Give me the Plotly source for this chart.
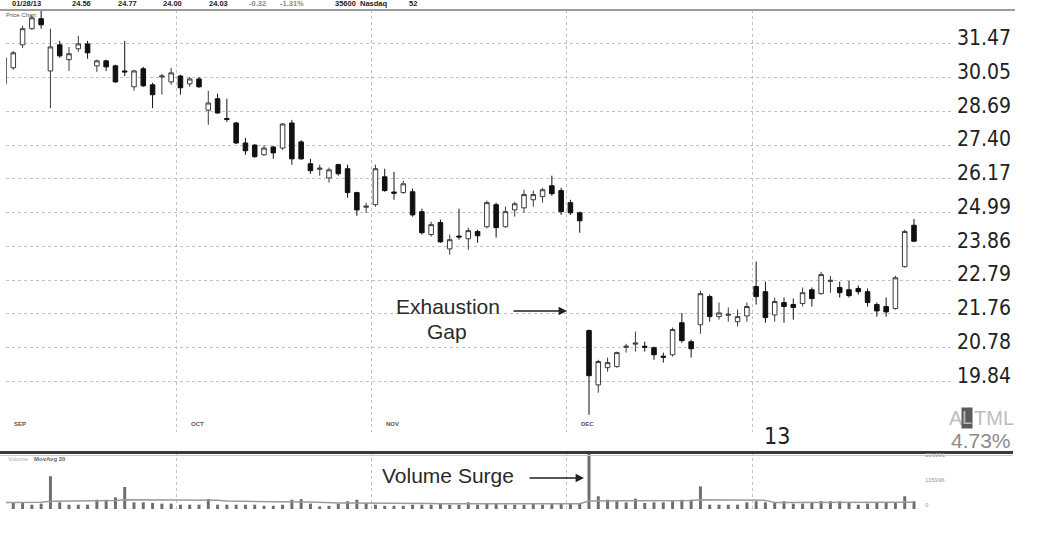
import math
import plotly.graph_objects as go

W, H = 1044, 534


def fx(p):
    return p / W


def fy(p):
    return 1 - p / H


# ---------------- data ----------------
opens = [29.79, 30.45, 31.42, 32.12, 32.56, 30.32, 31.42, 30.79, 31.25, 31.46,
         30.53, 30.74, 30.53, 30.32, 29.67, 30.41, 29.75, 30.07, 29.87, 30.11,
         29.79, 29.99, 28.74, 29.19, 28.41, 28.24, 27.48, 27.40, 27.04, 27.33,
         27.29, 28.24, 27.52, 26.71, 26.51, 26.20, 26.68, 26.53, 25.68, 25.17,
         25.26, 26.24, 25.70, 25.68, 25.71, 25.02, 24.25, 24.65, 23.78, 24.20,
         24.11, 24.35, 24.51, 25.26, 24.51, 25.08, 25.15, 25.43, 25.54, 25.92,
         25.75, 25.33, 24.98, 21.27, 19.75, 20.22, 20.25, 20.79, 20.88, 20.82,
         20.78, 20.54, 20.58, 21.50, 20.95, 21.44, 22.28, 21.68, 21.72, 21.53,
         21.70, 22.59, 22.43, 21.73, 22.10, 22.04, 22.07, 22.49, 22.37, 22.75,
         22.56, 22.49, 22.53, 22.43, 22.04, 21.98, 21.92, 23.21, 24.56]
highs = [31.00, 31.16, 32.25, 32.69, 32.91, 32.12, 31.59, 31.33, 31.81, 31.59,
         30.79, 30.79, 30.58, 31.59, 30.37, 30.49, 29.83, 30.20, 30.45, 30.16,
         30.07, 30.07, 29.51, 29.39, 29.19, 28.28, 27.67, 27.44, 27.40, 27.37,
         28.24, 28.36, 27.59, 26.89, 26.68, 26.57, 26.71, 26.68, 25.71, 25.33,
         26.68, 26.53, 26.42, 26.10, 25.82, 25.12, 24.68, 24.75, 24.25, 25.12,
         24.48, 24.41, 25.40, 25.33, 25.19, 25.36, 25.78, 25.75, 25.85, 26.28,
         25.85, 25.43, 25.02, 21.30, 20.44, 20.50, 20.67, 20.89, 21.24, 20.95,
         20.81, 20.64, 21.36, 21.79, 21.01, 22.46, 22.34, 22.10, 21.95, 21.89,
         22.10, 23.37, 22.74, 22.25, 22.25, 22.22, 22.56, 22.56, 23.05, 22.92,
         22.74, 22.77, 22.62, 22.53, 22.10, 22.25, 22.92, 24.41, 24.77]
lows = [29.63, 30.37, 31.29, 32.07, 32.12, 28.82, 30.87, 30.32, 31.12, 30.83,
        30.28, 30.32, 29.83, 30.11, 29.51, 29.67, 28.82, 29.35, 29.75, 29.35,
        29.67, 29.63, 28.17, 28.59, 28.28, 27.44, 27.04, 26.93, 27.00, 26.89,
        27.22, 26.68, 26.86, 26.35, 26.28, 26.03, 26.28, 25.50, 24.88, 24.98,
        25.19, 25.71, 25.43, 25.64, 24.85, 24.25, 24.18, 23.98, 23.59, 24.08,
        23.75, 23.98, 24.45, 24.15, 24.48, 24.85, 24.98, 25.19, 25.33, 25.57,
        24.91, 24.91, 24.31, 18.96, 19.54, 20.11, 20.22, 20.64, 20.67, 20.67,
        20.44, 20.36, 20.53, 20.92, 20.50, 21.18, 21.53, 21.59, 21.53, 21.39,
        21.53, 22.04, 21.50, 21.53, 21.50, 21.59, 21.98, 21.98, 22.34, 22.40,
        22.25, 22.25, 22.34, 21.98, 21.68, 21.68, 21.89, 23.18, 24.00]
closes = [30.87, 31.08, 32.12, 32.60, 32.29, 31.33, 30.95, 31.04, 31.46, 31.08,
          30.74, 30.49, 29.87, 30.28, 30.32, 29.71, 29.35, 30.11, 30.24, 29.63,
          29.99, 29.67, 29.02, 28.63, 28.38, 27.48, 27.19, 26.97, 27.29, 27.11,
          28.20, 26.89, 26.89, 26.46, 26.55, 26.49, 26.35, 25.68, 25.08, 25.21,
          26.53, 25.75, 25.66, 25.99, 24.91, 24.31, 24.58, 24.01, 24.08, 24.17,
          24.38, 24.21, 25.33, 24.48, 25.02, 25.29, 25.61, 25.61, 25.78, 25.64,
          25.02, 24.98, 24.71, 20.00, 20.39, 20.36, 20.64, 20.82, 20.91, 20.79,
          20.58, 20.51, 21.30, 20.98, 20.75, 22.37, 21.68, 21.79, 21.75, 21.68,
          21.98, 22.28, 21.65, 22.13, 21.98, 21.95, 22.40, 22.22, 22.96, 22.78,
          22.40, 22.31, 22.43, 22.10, 21.85, 21.82, 22.86, 24.35, 24.03]
volumes = [28000, 31000, 28000, 20000, 25000, 152000, 31000, 20000, 20000, 20000,
           43000, 43000, 54000, 102000, 31000, 31000, 28000, 25000, 25000, 20000,
           20000, 20000, 46000, 20000, 20000, 20000, 20000, 20000, 15000, 15000,
           20000, 43000, 46000, 25000, 12000, 15000, 25000, 36000, 43000, 28000,
           20000, 15000, 15000, 15000, 20000, 20000, 20000, 25000, 20000, 20000,
           31000, 20000, 25000, 28000, 20000, 20000, 20000, 25000, 20000, 25000,
           28000, 25000, 25000, 270000, 59000, 43000, 36000, 31000, 48000, 28000,
           31000, 31000, 36000, 43000, 43000, 105000, 20000, 20000, 20000, 20000,
           31000, 36000, 31000, 28000, 36000, 25000, 25000, 28000, 36000, 36000,
           36000, 28000, 20000, 25000, 28000, 28000, 28000, 59000, 36000]
vol_ma20 = [30000, 30000, 30000, 30000, 31000, 36000, 36000, 36000, 36000, 37000,
            38000, 38000, 39000, 43000, 43000, 43000, 43000, 43000, 43000, 42000,
            42000, 42000, 42000, 41000, 37000, 36000, 36000, 36000, 36000, 35000,
            31000, 31000, 32000, 32000, 30000, 29000, 28000, 28000, 28000, 27000,
            27000, 26000, 26000, 25000, 25000, 25000, 25000, 24000, 24000, 24000,
            24000, 24000, 24000, 24000, 24000, 24000, 24000, 24000, 24000, 24000,
            24000, 24000, 24000, 37000, 38000, 38000, 38000, 38000, 38000, 38000,
            38000, 38000, 38000, 39000, 39000, 43000, 43000, 42000, 42000, 42000,
            41000, 40000, 40000, 30000, 30000, 30000, 30000, 30000, 30000, 31000,
            31000, 31000, 30000, 30000, 30000, 30000, 30000, 30000, 31000]
bar_index = list(range(len(opens)))

price_ticks = [31.47, 30.05, 28.69, 27.40, 26.17, 24.99, 23.86, 22.79, 21.76, 20.78, 19.84]
price_tick_text = ["31.47", "30.05", "28.69", "27.40", "26.17", "24.99",
                   "23.86", "22.79", "21.76", "20.78", "19.84"]
month_labels = ["SEP", "OCT", "NOV", "DEC"]
month_label_starts = [0, 19, 40, 61]
month_grid_starts = [19, 40, 61, 81]
volume_tick_vals = [0, 115996, 231991]
volume_tick_text = ["0", "115996", "231991"]
header_texts = ["01/28/13", "24.56", "24.77", "24.00", "24.03", "-0.32", "-1.31%", "35600", "Nasdaq", "52"]

# ---------------- figure ----------------
fig = go.Figure()

fig.add_trace(go.Candlestick(
    x=bar_index, open=opens, high=highs, low=lows, close=closes,
    increasing=dict(line=dict(color="#3a3a3a", width=1), fillcolor="#ffffff"),
    decreasing=dict(line=dict(color="#111111", width=1), fillcolor="#111111"),
    whiskerwidth=0, xaxis="x", yaxis="y", showlegend=False, hoverinfo="skip",
))

fig.add_trace(go.Bar(
    x=bar_index, y=volumes, width=0.32, marker=dict(color="#6e6e6e", line=dict(width=0)),
    xaxis="x2", yaxis="y2", showlegend=False, hoverinfo="skip",
))
fig.add_trace(go.Scatter(
    x=bar_index, y=vol_ma20, mode="lines", line=dict(color="#9a9a9a", width=1.5),
    xaxis="x2", yaxis="y2", showlegend=False, hoverinfo="skip",
))

x_range = [0.215, 102.2]
grid_x = [s - 0.4 for s in month_grid_starts]
narrow = "Liberation Sans Narrow, DejaVu Sans Condensed, Arial Narrow, Liberation Sans, sans-serif"
sans = "Liberation Sans, Arial, Helvetica, sans-serif"
grid_col = "#c2c2c2"

fig.update_layout(
    width=W, height=H, margin=dict(l=0, r=0, t=0, b=0),
    paper_bgcolor="white", plot_bgcolor="white",
    showlegend=False,
    xaxis=dict(domain=[fx(6), fx(953)], range=x_range, anchor="y",
               tickmode="array", tickvals=grid_x, showticklabels=False, ticks="",
               showgrid=True, gridcolor=grid_col, griddash="dot", gridwidth=1,
               zeroline=False, showline=False, rangeslider=dict(visible=False)),
    yaxis=dict(domain=[fy(432), fy(10)], type="log",
               range=[math.log10(18.52), math.log10(32.95)],
               side="right", anchor="x", tickmode="array", tickvals=price_ticks,
               ticktext=price_tick_text, ticks="", ticklabelposition="outside",
               ticklabelshift=-6, ticklabelstandoff=3,
               tickfont=dict(family=narrow, size=21, color="#222222"),
               showgrid=True, gridcolor=grid_col, griddash="dot", gridwidth=1,
               zeroline=False, showline=False),
    xaxis2=dict(domain=[fx(6), fx(953)], range=x_range, anchor="y2",
                tickmode="array", tickvals=grid_x, showticklabels=False, ticks="",
                showgrid=True, gridcolor=grid_col, griddash="dot", gridwidth=1,
                zeroline=False, showline=False),
    yaxis2=dict(domain=[fy(509), fy(452)], range=[0, 264480], anchor="x2",
                showgrid=False, showticklabels=False, zeroline=False, showline=False),
)

shapes = [
    dict(type="line", xref="paper", yref="paper", x0=0, x1=fx(1015), y0=fy(10), y1=fy(10),
         line=dict(color="#9c9c9c", width=2)),
    dict(type="line", xref="paper", yref="paper", x0=0, x1=fx(1013), y0=fy(452.5), y1=fy(452.5),
         line=dict(color="#3a3a3a", width=3)),
    dict(type="line", xref="paper", yref="paper", x0=0, x1=fx(1013), y0=fy(455.5), y1=fy(455.5),
         line=dict(color="#c8c8c8", width=1)),
]
fig.update_layout(shapes=shapes)

ann = []
# header row (cut at the top edge)
header_x = [10, 70, 116, 161, 207, 247, 278, 333, 358, 407]
for t, x in zip(header_texts, header_x):
    col = "#8a8a8a" if t.startswith("-") else "#222222"
    ann.append(dict(text="<b>%s</b>" % t, x=fx(x), y=fy(3), xref="paper", yref="paper",
                    xanchor="left", yanchor="middle", showarrow=False,
                    font=dict(family=sans, size=7.5, color=col)))
ann.append(dict(text="Price Chart", x=fx(4), y=fy(14.5), xref="paper", yref="paper",
                xanchor="left", yanchor="middle", showarrow=False,
                font=dict(family=sans, size=6, color="#555555")))
# month labels
for lab, s in zip(month_labels, month_label_starts):
    ann.append(dict(text="<b>%s</b>" % lab, x=s + 0.9, y=fy(423.5), xref="x", yref="paper",
                    xanchor="left", yanchor="middle", showarrow=False,
                    font=dict(family=sans, size=6, color="#555555")))
ann.append(dict(text="13", x=fx(777), y=fy(436), xref="paper", yref="paper",
                xanchor="center", yanchor="middle", showarrow=False,
                font=dict(family=narrow, size=23, color="#222222")))
# ALTML box
ann.append(dict(text="A", x=fx(947), y=fy(418), xref="paper", yref="paper",
                xanchor="left", yanchor="middle", showarrow=False,
                font=dict(family=sans, size=20, color="#bdbdbd")))
ann.append(dict(text="L", x=fx(961), y=fy(418), xref="paper", yref="paper",
                xanchor="left", yanchor="middle", showarrow=False, bgcolor="#5a5a5a",
                borderpad=0, font=dict(family=sans, size=18, color="#b8b8b8")))
ann.append(dict(text="TML", x=fx(972), y=fy(418), xref="paper", yref="paper",
                xanchor="left", yanchor="middle", showarrow=False,
                font=dict(family=sans, size=20, color="#bdbdbd")))
ann.append(dict(text="4.73%", x=fx(1013), y=fy(440), xref="paper", yref="paper",
                xanchor="right", yanchor="middle", showarrow=False,
                font=dict(family=sans, size=21, color="#8a8a8a")))
# annotations text + arrows
ann.append(dict(text="Exhaustion", x=fx(394), y=fy(306), xref="paper", yref="paper",
                xanchor="left", yanchor="middle", showarrow=False,
                font=dict(family=sans, size=21, color="#2a2a2a")))
ann.append(dict(text="Gap", x=fx(447), y=fy(331), xref="paper", yref="paper",
                xanchor="center", yanchor="middle", showarrow=False,
                font=dict(family=sans, size=21, color="#2a2a2a")))
ann.append(dict(text="", x=fx(567), y=fy(311), xref="paper", yref="paper",
                ax=-55, ay=0, showarrow=True, arrowhead=2, arrowsize=1.2,
                arrowwidth=1.4, arrowcolor="#222222", standoff=0))
ann.append(dict(text="Volume Surge", x=fx(380), y=fy(475), xref="paper", yref="paper",
                xanchor="left", yanchor="middle", showarrow=False,
                font=dict(family=sans, size=21, color="#2a2a2a")))
ann.append(dict(text="", x=fx(584), y=fy(478), xref="paper", yref="paper",
                ax=-56, ay=0, showarrow=True, arrowhead=2, arrowsize=1.2,
                arrowwidth=1.4, arrowcolor="#222222", standoff=0))
# volume panel labels
ann.append(dict(text="Volume", x=fx(6), y=fy(459), xref="paper", yref="paper",
                xanchor="left", yanchor="middle", showarrow=False,
                font=dict(family=sans, size=6, color="#aaaaaa")))
ann.append(dict(text="<b>MovAvg 20</b>", x=fx(32), y=fy(459), xref="paper", yref="paper",
                xanchor="left", yanchor="middle", showarrow=False,
                font=dict(family=sans, size=6, color="#666666")))
for v, t in zip(volume_tick_vals, volume_tick_text):
    ann.append(dict(text=t, x=fx(923), y=v, xref="paper", yref="y2", yshift=4,
                    xanchor="left", yanchor="middle", showarrow=False,
                    font=dict(family=sans, size=6, color="#9a9a9a")))

fig.update_layout(annotations=ann)
fig.write_html(
    "out.html",
    config={"displayModeBar": False, "staticPlot": True},
    post_script="document.body.style.margin='0';document.body.style.overflow='hidden';",
)
